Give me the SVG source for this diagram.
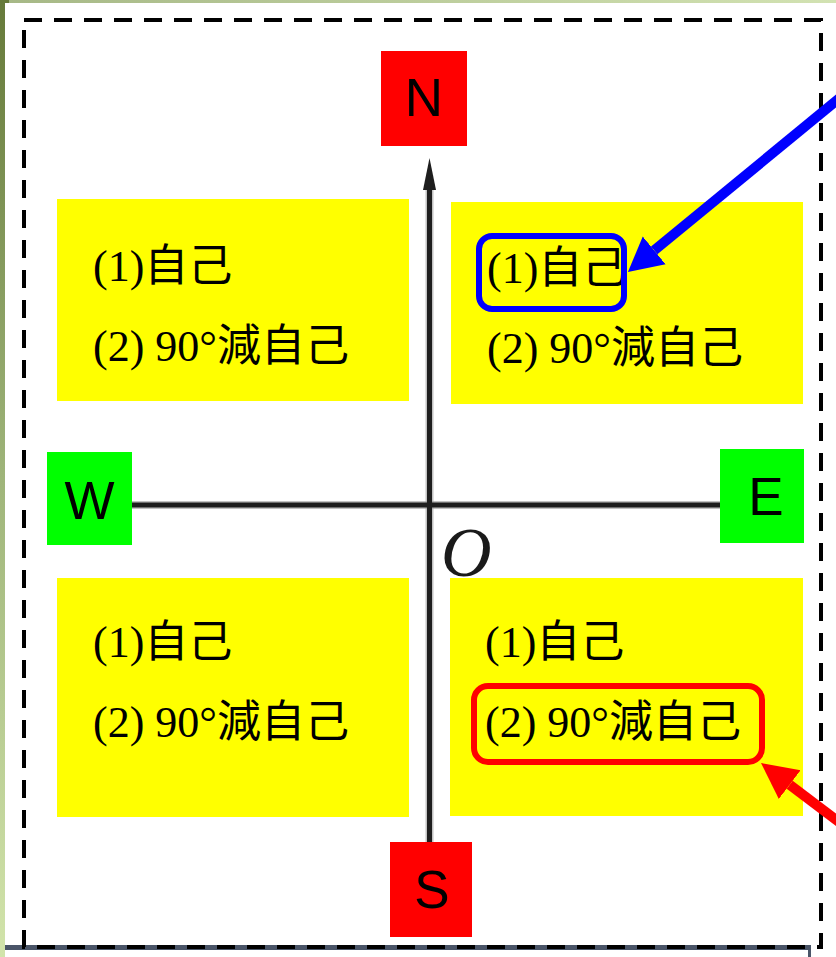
<svg xmlns="http://www.w3.org/2000/svg" width="836" height="957" viewBox="0 0 836 957">
  <style>
    .quad { fill: #ffff00; }
    .txt { font-family: "Liberation Serif", "Noto Sans CJK TC", serif; font-size: 44px; fill: #000; }
    .dir { font-family: "Liberation Sans", "Open Sans", sans-serif; font-size: 53px; fill: #000; text-anchor: middle; }
    .red { fill: #ff0000; }
    .green { fill: #00ff00; }
    .axis { stroke: #1e1e1e; stroke-width: 5; fill: none; }
    .axis-halo { stroke: #9a9a9a; stroke-width: 8; fill: none; opacity: 0.6; }
  </style>
  <defs>
    <linearGradient id="leftStrip" x1="0" y1="0" x2="0" y2="1">
      <stop offset="0" stop-color="#667a3a"/>
      <stop offset="0.5" stop-color="#9fb57a"/>
      <stop offset="1" stop-color="#d2e4ab"/>
    </linearGradient>
    <linearGradient id="topStrip" x1="0" y1="0" x2="1" y2="0">
      <stop offset="0" stop-color="#a6b886"/>
      <stop offset="1" stop-color="#d2e2b2"/>
    </linearGradient>
    <marker id="headBlue" viewBox="0 -20 40 40" refX="0" refY="0" markerWidth="40" markerHeight="40" markerUnits="userSpaceOnUse" orient="auto">
      <path d="M0,-18 L34,0 L0,18 z" fill="#0000ff"/>
    </marker>
    <marker id="headRed" viewBox="0 -20 40 40" refX="0" refY="0" markerWidth="40" markerHeight="40" markerUnits="userSpaceOnUse" orient="auto">
      <path d="M0,-18 L36,0 L0,18 z" fill="#ff0000"/>
    </marker>
  </defs>

  <rect x="0" y="0" width="836" height="957" fill="#ffffff"/>
  <rect x="0" y="0" width="836" height="3" fill="url(#topStrip)"/>
  <rect x="0" y="0" width="5" height="957" fill="url(#leftStrip)"/>
  <rect x="0" y="0" width="9" height="3" fill="#667a3a"/>

  <g id="bottom-edge">
    <rect x="5" y="945" width="806" height="5" fill="#4a5568"/>
    <line x1="809.5" y1="945" x2="809.5" y2="957" stroke="#4a5568" stroke-width="3"/>
  </g>

  <rect id="frame" x="24" y="20" width="797" height="927" fill="none" stroke="#000" stroke-width="4" stroke-dasharray="18 12"/>

  <g id="quad-nw">
    <rect class="quad" x="57" y="199" width="352" height="202"/>
    <text class="txt" x="93" y="281">(1)自己</text>
    <text class="txt" x="93" y="361">(2) 90°減自己</text>
  </g>
  <g id="quad-ne">
    <rect class="quad" x="451" y="202" width="352" height="202"/>
    <text class="txt" x="487" y="283">(1)自己</text>
    <text class="txt" x="487" y="363">(2) 90°減自己</text>
  </g>
  <g id="quad-sw">
    <rect class="quad" x="57" y="578" width="352" height="239"/>
    <text class="txt" x="93" y="657">(1)自己</text>
    <text class="txt" x="93" y="737">(2) 90°減自己</text>
  </g>
  <g id="quad-se">
    <rect class="quad" x="450" y="578" width="353" height="238"/>
    <text class="txt" x="485" y="657">(1)自己</text>
    <text class="txt" x="485" y="737">(2) 90°減自己</text>
  </g>

  <g id="axes">
    <line class="axis-halo" x1="429.5" y1="185" x2="429.5" y2="843"/>
    <line class="axis-halo" x1="131" y1="505" x2="720" y2="505"/>
    <line class="axis" x1="429.5" y1="185" x2="429.5" y2="843"/>
    <line class="axis" x1="131" y1="505" x2="720" y2="505"/>
    <polygon points="429.5,158 423,190 436,190" fill="#1e1e1e"/>
    <text x="441" y="576" font-family="Liberation Serif, serif" font-style="italic" font-size="70" fill="#1a1a1a">O</text>
  </g>

  <g id="north">
    <rect class="red" x="381" y="51" width="86" height="95"/>
    <text class="dir" x="424" y="116">N</text>
  </g>
  <g id="west">
    <rect class="green" x="47" y="452" width="85" height="93"/>
    <text class="dir" x="89.5" y="519">W</text>
  </g>
  <g id="east">
    <rect class="green" x="720" y="449" width="84" height="94"/>
    <text class="dir" x="766" y="515">E</text>
  </g>
  <g id="south">
    <rect class="red" x="390" y="842" width="82" height="95"/>
    <text class="dir" x="432" y="908">S</text>
  </g>

  <g id="highlight-blue">
    <rect x="479" y="236" width="145" height="73" rx="13" fill="none" stroke="#0000ff" stroke-width="6"/>
  </g>
  <g id="highlight-red">
    <rect x="474" y="686" width="288" height="76" rx="14" fill="none" stroke="#ff0000" stroke-width="6"/>
  </g>

  <g id="connectors">
    <line x1="845" y1="93.6" x2="654.2" y2="250.4" stroke="#0000ff" stroke-width="10" marker-end="url(#headBlue)"/>
    <line x1="845" y1="826.6" x2="789.7" y2="784.7" stroke="#ff0000" stroke-width="10" marker-end="url(#headRed)"/>
  </g>
</svg>
